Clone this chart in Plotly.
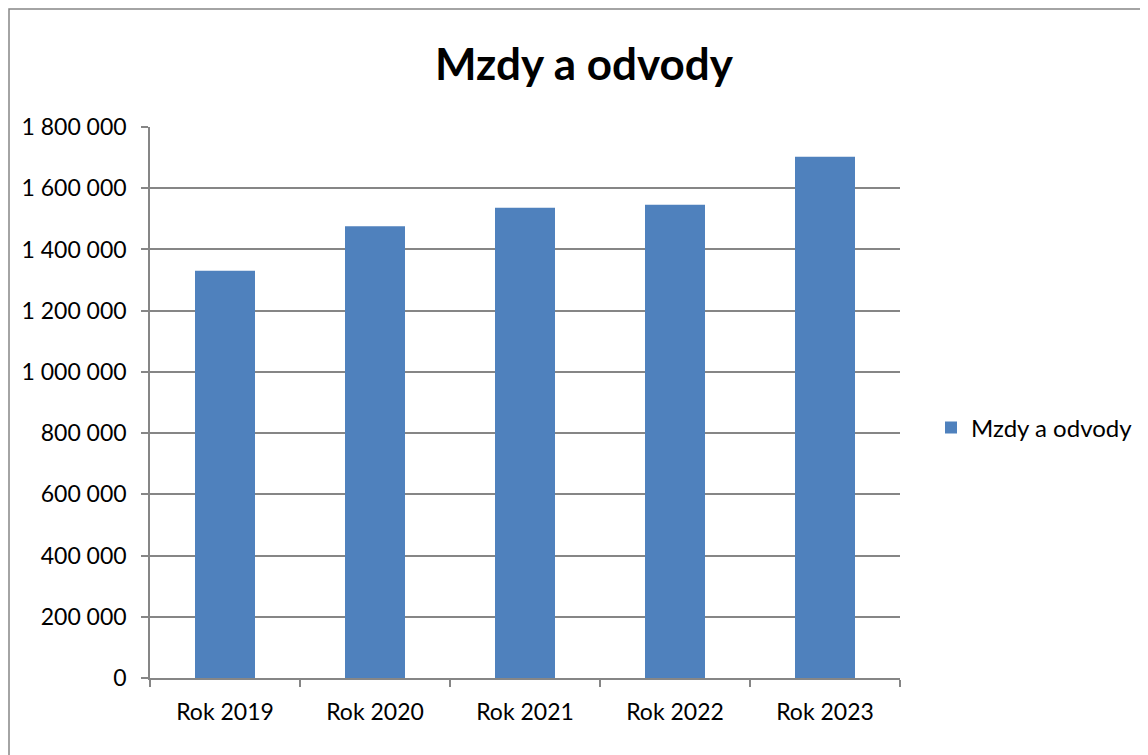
import plotly.graph_objects as go

categories = ["Rok 2019", "Rok 2020", "Rok 2021", "Rok 2022", "Rok 2023"]
values = [1330000, 1476000, 1536000, 1546000, 1703000]
series_name = "Mzdy a odvody"
title_text = "Mzdy a odvody"
y_tickvals = [0, 200000, 400000, 600000, 800000, 1000000, 1200000, 1400000, 1600000, 1800000]
y_ticktext = ["0", "200 000", "400 000", "600 000", "800 000", "1 000 000",
              "1 200 000", "1 400 000", "1 600 000", "1 800 000"]

OFF = 8  # page body margin
W, H = 1148 - OFF, 755 - OFF
# plot area in page pixels: x 150..900, y 127..678
L, R, T, B = 150 - OFF, 1148 - 900, 127 - OFF, 755 - 678
pw, ph = 900 - 150, 678 - 127

def px_x(x):  # page x -> paper
    return (x - 150) / pw

def px_y(y):  # page y -> paper
    return (678 - y) / ph

FONT = "Lato"
GRID = "#868686"

fig = go.Figure()
fig.add_trace(go.Bar(
    x=categories, y=values, name=series_name,
    marker=dict(color="#4F81BD", line=dict(width=0)),
    showlegend=True,
))

fig.update_layout(
    width=W, height=H,
    margin=dict(l=L, r=R, t=T, b=B, autoexpand=False),
    paper_bgcolor="white", plot_bgcolor="white",
    bargap=0.6,
    title=dict(text="<b>" + title_text + "</b>", x=(584 - OFF) / W, xanchor="center",
               y=1 - (65 - OFF) / H, yanchor="middle",
               font=dict(family=FONT, size=44, color="black")),
    font=dict(family=FONT, size=23, color="black"),
    showlegend=True,
    legend=dict(x=px_x(931), y=px_y(428), xanchor="left", yanchor="middle",
                font=dict(family=FONT, size=24, color="black"),
                bgcolor="rgba(0,0,0,0)", itemwidth=30),
    xaxis=dict(showgrid=False, showline=True, linecolor=GRID, linewidth=1.5,
               ticks="outside", tickson="boundaries", ticklen=7, tickcolor=GRID,
               tickwidth=1.5, tickfont=dict(family=FONT, size=23, color="black"),
               zeroline=False, ticklabelstandoff=13),
    yaxis=dict(range=[0, 1800000], tickvals=y_tickvals, ticktext=y_ticktext,
               showgrid=True, gridcolor=GRID, gridwidth=1.5,
               showline=True, linecolor=GRID, linewidth=1.5,
               ticks="outside", ticklen=7, tickcolor=GRID, tickwidth=1.5,
               tickfont=dict(family=FONT, size=23, color="black"),
               zeroline=False, ticklabelstandoff=10),
    shapes=[dict(type="rect", xref="paper", yref="paper",
                 x0=px_x(OFF + 1), x1=px_x(1147), y0=px_y(790), y1=px_y(OFF + 1),
                 line=dict(color=GRID, width=1.5), fillcolor="rgba(0,0,0,0)",
                 layer="below")],
)

fig.write_html("out.html")
